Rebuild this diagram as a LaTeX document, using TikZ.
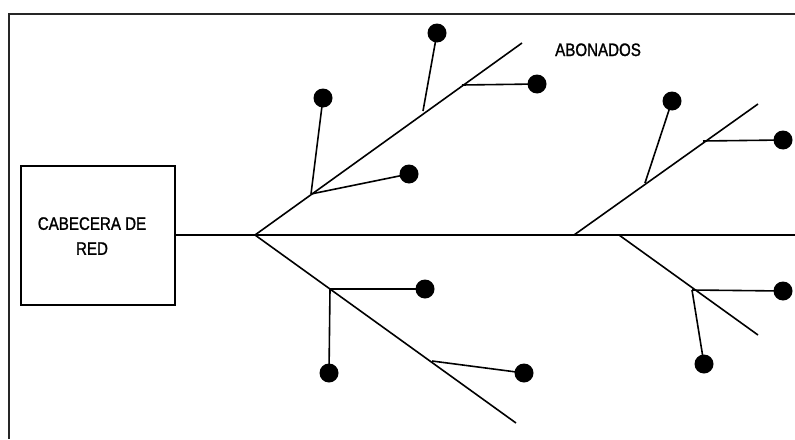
\documentclass[tikz,border=0pt]{standalone}
\usepackage{fontspec}
\setmainfont{Liberation Sans}[FakeBold=1.3,FakeStretch=0.84]
\begin{document}
\begin{tikzpicture}[x=1pt,y=-1pt,
  wire/.style={line width=1.6pt,black},
  frame/.style={line width=2pt,black!85},
  dot/.style={circle,fill=black,inner sep=0pt,minimum size=19pt},
  lbl/.style={font=\fontsize{18}{25}\selectfont,inner sep=0pt,align=center}]
\useasboundingbox (0,0) rectangle (795,439);
% outer frame (top and left edges)
\coordinate (ftl) at (9,14);
\coordinate (ftr) at (795,14);
\coordinate (fbl) at (9,439);
\draw[frame] (ftr) -- (ftl) -- (fbl);
% head-end box
\node[draw,line width=2pt,minimum width=154pt,minimum height=139pt,inner sep=0pt] (box) at (98,235.5) {};
\node[lbl] (boxtxt) at (92,236) {CABECERA DE\\RED};
% trunk
\coordinate (t0) at (175,235);
\coordinate (tend) at (795,235);
\coordinate (b1) at (255,235);
\coordinate (b2) at (574,235);
\coordinate (b3) at (619,235);
\draw[wire] (t0) -- (tend);
% left upper branch
\coordinate (u1end) at (522,43);
\coordinate (j1) at (311,194);
\coordinate (j2) at (423,111);
\coordinate (j3) at (462,85);
\draw[wire] (b1) -- (u1end);
\node[dot] (d1) at (323,98) {};
\node[dot] (d2) at (409,174) {};
\node[dot] (d3) at (437,33) {};
\node[dot] (d4) at (537,84) {};
\draw[wire] (j1) -- (d1.center);
\draw[wire] (j1) -- (d2.center);
\draw[wire] (j2) -- (d3.center);
\draw[wire] (j3) -- (d4.center);
% left lower branch
\coordinate (l1end) at (516,423);
\coordinate (j4) at (330,289);
\coordinate (j5) at (432,361);
\draw[wire] (b1) -- (l1end);
\node[dot] (d5) at (425,289) {};
\node[dot] (d6) at (329,373) {};
\node[dot] (d7) at (524,373) {};
\draw[wire] (j4) -- (d5.center);
\draw[wire] (j4) -- (d6.center);
\draw[wire] (j5) -- (d7.center);
% right upper branch
\coordinate (u2end) at (758,104);
\coordinate (j6) at (645,183);
\coordinate (j7) at (703,141);
\draw[wire] (b2) -- (u2end);
\node[dot] (d8) at (672,101) {};
\node[dot] (d9) at (783,140) {};
\draw[wire] (j6) -- (d8.center);
\draw[wire] (j7) -- (d9.center);
% right lower branch
\coordinate (l2end) at (758,335);
\coordinate (j8) at (692,290);
\draw[wire] (b3) -- (l2end);
\node[dot] (d10) at (783,291) {};
\node[dot] (d11) at (704,364) {};
\draw[wire] (j8) -- (d10.center);
\draw[wire] (j8) -- (d11.center);
% label
\node[lbl,anchor=base west] (abon) at (555,56) {ABONADOS};
\end{tikzpicture}
\end{document}
